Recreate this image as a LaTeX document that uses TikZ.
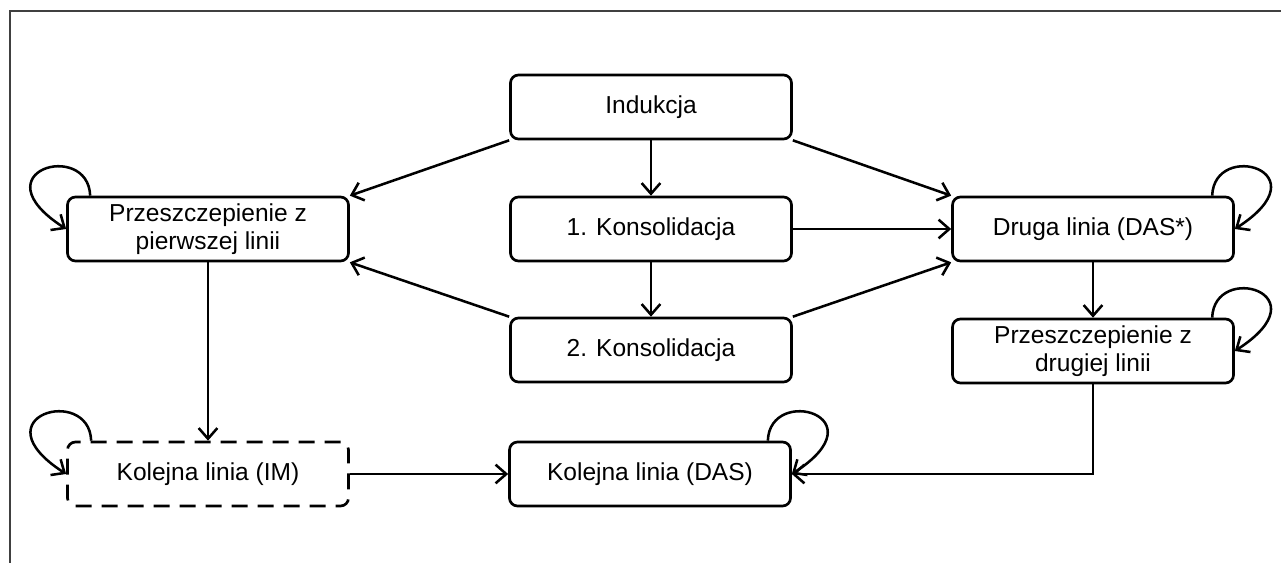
\documentclass[tikz,border=0pt]{standalone}
\usepackage{fontspec}
\setmainfont{Liberation Sans}
\usetikzlibrary{arrows.meta}
\begin{document}
\begin{tikzpicture}[x=0.75pt,y=-0.75pt,
  box/.style={draw, line width=2pt, rounded corners=6pt, minimum width=210.75pt, minimum height=48pt, inner sep=0pt, align=center, font=\fontsize{18.4}{21}\selectfont},
  dbox/.style={box, dash pattern=on 12pt off 7.5pt},
  arr/.style={line width=1.9pt, -{Straight Barb[length=8pt,width=14pt]}},
  frame/.style={line width=1.6pt, draw=black!75}]
\useasboundingbox (0,0) rectangle (1281,563);
\coordinate (fa) at (1281,11);
\coordinate (fb) at (10,563);
\draw[frame] (fa) -| (fb);

\node[box] (ind) at (651,107) {Indukcja};
\node[box] (k1) at (651,229) {1. Konsolidacja};
\node[box] (k2) at (651,350) {2. Konsolidacja};
\node[box] (p1) at (208,229) {Przeszczepienie z\\pierwszej linii};
\node[box] (dr) at (1093,229) {Druga linia (DAS*)};
\node[box] (p2) at (1093,351) {Przeszczepienie z\\drugiej linii};
\node[dbox] (im) at (208,474) {Kolejna linia (IM)};
\node[box] (das) at (650,474) {Kolejna linia (DAS)};

\draw[arr] (ind) -- (k1);
\draw[arr] (k1) -- (k2);
\draw[arr] (ind.south west) -- (p1.north east);
\draw[arr] (k2.north west) -- (p1.south east);
\draw[arr] (ind.south east) -- (dr.north west);
\draw[arr] (k1.east) -- (dr.west);
\draw[arr] (k2.north east) -- (dr.south west);
\draw[arr] (dr) -- (p2);
\draw[arr] (p1) -- (im);
\draw[arr] (im) -- (das);
\draw[arr] (p2.south) |- (das.east);

\draw[arr] ([xshift=18pt]p1.north west) .. controls +(-2,-56) and +(-90,-58) .. (p1.west);
\draw[arr] ([xshift=18.75pt]im.north west) .. controls +(-2,-56) and +(-90,-58) .. (im.west);
\draw[arr] ([xshift=-17pt]dr.north east) .. controls +(2,-56) and +(90,-58) .. (dr.east);
\draw[arr] ([xshift=-17pt]p2.north east) .. controls +(2,-56) and +(90,-58) .. (p2.east);
\draw[arr] ([xshift=-18pt]das.north east) .. controls +(2,-56) and +(90,-58) .. (das.east);
\end{tikzpicture}
\end{document}
